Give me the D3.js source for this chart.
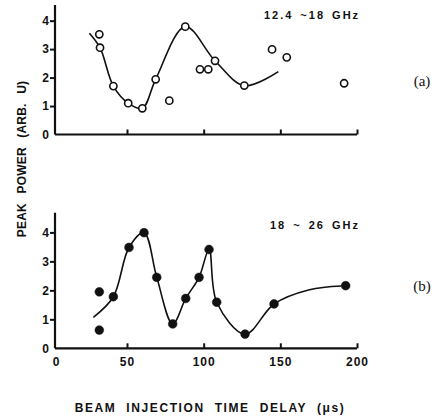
<!DOCTYPE html>
<html><head><meta charset="utf-8">
<script src="https://cdn.jsdelivr.net/npm/d3@7"></script>
<style>
html,body{margin:0;padding:0;background:#fff;}
svg text{fill:#111;}
</style></head>
<body>
<svg id="c" width="432" height="420"></svg>
<script>
// ---- data ----
const xTicks = [0, 50, 100, 150, 200];
const yTicks = [0, 1, 2, 3, 4];
// (a) 12.4 ~ 18 GHz : open circles
const aX = [30.5, 31.0, 40.4, 50.8, 60.0, 68.7, 77.6, 88.0, 97.6, 103.0, 107.4, 126.5, 144.6, 154.2, 191.6];
const aY = [3.52, 3.05, 1.70, 1.10, 0.92, 1.94, 1.19, 3.79, 2.29, 2.29, 2.59, 1.72, 2.99, 2.71, 1.80];
// hand-drawn guide curve (a)
const aCurveX = [23.5, 31.0, 40.4, 50.8, 60.0, 68.7, 88.0, 107.4, 126.5, 148.7];
const aCurveY = [3.56, 3.05, 1.70, 1.10, 0.92, 1.94, 3.79, 2.59, 1.72, 2.21];
// (b) 18 ~ 26 GHz : filled circles
const bX = [30.5, 30.5, 40.4, 51.3, 61.1, 69.4, 79.8, 88.3, 97.0, 103.5, 108.5, 127.0, 145.9, 192.6];
const bY = [1.95, 0.63, 1.78, 3.48, 3.99, 2.45, 0.84, 1.72, 2.45, 3.41, 1.59, 0.49, 1.53, 2.16];
// hand-drawn guide curve (b)
const bCurveX = [26.3, 40.4, 51.3, 61.1, 69.4, 79.8, 88.3, 97.0, 103.5, 108.5, 127.0, 145.9, 169.0, 190.0];
const bCurveY = [1.07, 1.78, 3.48, 3.99, 2.45, 0.84, 1.72, 2.45, 3.41, 1.59, 0.49, 1.53, 2.02, 2.15];
const titles = ["12.4 ~18 GHz", "18 ~ 26 GHz"];
const panelTags = ["(a)", "(b)"];
const xTitle = "BEAM INJECTION TIME DELAY (\u03bcs)";
const yTitle = "PEAK POWER (ARB. U)";

// ---- layout ----
const svg = d3.select("#c");
const font = "'Liberation Sans', Arial, sans-serif";
const x = d3.scaleLinear().domain([0, 50, 200]).range([56, 127, 357]);
const xAxisStart = 55;

const panels = [
  {top: 5, base: 134.5, max: 4.55, xs: aX, ys: aY, cx: aCurveX, cy: aCurveY, filled: false, labels: false,
   title: titles[0], tx: 312, ty: 19, tag: panelTags[0], tagY: 86},
  {top: 212.7, base: 348.3, max: 4.68, xs: bX, ys: bY, cx: bCurveX, cy: bCurveY, filled: true, labels: true,
   title: titles[1], tx: 315, ty: 229, tag: panelTags[1], tagY: 291}
];

panels.forEach(p => {
  const y = d3.scaleLinear().domain([0, p.max]).range([p.base, p.top]);
  const g = svg.append("g");

  // curve
  const line = d3.line().x(d => x(d[0])).y(d => y(d[1])).curve(d3.curveCatmullRom.alpha(0.5));
  g.append("path").datum(d3.zip(p.cx, p.cy)).attr("d", line)
    .attr("fill", "none").attr("stroke", "#111").attr("stroke-width", 1.6);

  // y axis
  const ya = g.append("g").attr("transform", `translate(${xAxisStart},0)`)
    .call(d3.axisLeft(y).tickValues(yTicks).tickSize(5).tickPadding(1).tickFormat(d3.format("d")));
  ya.select(".domain").attr("d", `M0,${p.base}V${p.top}`).attr("stroke", "#111").attr("stroke-width", 2.2);
  ya.selectAll(".tick line").attr("stroke", "#111").attr("stroke-width", 2);
  ya.selectAll(".tick").filter(d => d === 0).select("line").remove();
  ya.selectAll(".tick text").attr("font-family", font).attr("font-weight", "bold").attr("font-size", 12).attr("fill", "#111");

  // x axis
  const xa = g.append("g").attr("transform", `translate(0,${p.base})`)
    .call(d3.axisBottom(x).tickValues(xTicks).tickSize(-5).tickPadding(9).tickFormat(p.labels ? d3.format("d") : ""));
  xa.select(".domain").attr("d", `M${xAxisStart},0H${x(200)}`).attr("stroke", "#111").attr("stroke-width", 2.2);
  xa.selectAll(".tick line").attr("stroke", "#111").attr("stroke-width", 2);
  xa.selectAll(".tick").filter(d => d === 0).select("line").remove();
  xa.selectAll(".tick text").attr("font-family", font).attr("font-weight", "bold").attr("font-size", 12)
    .attr("fill", "#111").attr("letter-spacing", 1);

  // points
  g.selectAll("circle.pt").data(d3.zip(p.xs, p.ys)).join("circle").attr("class", "pt")
    .attr("cx", d => x(d[0])).attr("cy", d => y(d[1]))
    .attr("r", p.filled ? 4.4 : 3.6)
    .attr("fill", p.filled ? "#111" : "#fff")
    .attr("stroke", "#111").attr("stroke-width", p.filled ? 0.5 : 1.6);

  // title
  g.append("text").attr("x", p.tx).attr("y", p.ty).attr("text-anchor", "middle")
    .attr("font-family", font).attr("font-weight", "bold").attr("font-size", 11)
    .attr("letter-spacing", 2.0).attr("word-spacing", 2).text(p.title);
  // tag
  g.append("text").attr("x", 422).attr("y", p.tagY).attr("text-anchor", "middle")
    .attr("font-family", "'Liberation Serif', 'Times New Roman', serif").attr("font-size", 15).text(p.tag);
});

// axis titles
svg.append("text").attr("x", 210).attr("y", 412).attr("text-anchor", "middle")
  .attr("font-family", font).attr("font-weight", "bold").attr("font-size", 12)
  .attr("letter-spacing", 1.6).attr("word-spacing", 5).text(xTitle);
svg.append("text").attr("transform", "translate(26,159) rotate(-90)").attr("text-anchor", "middle")
  .attr("font-family", font).attr("font-weight", "bold").attr("font-size", 12)
  .attr("letter-spacing", 0.2).attr("word-spacing", 6).text(yTitle);
</script>
</body></html>
